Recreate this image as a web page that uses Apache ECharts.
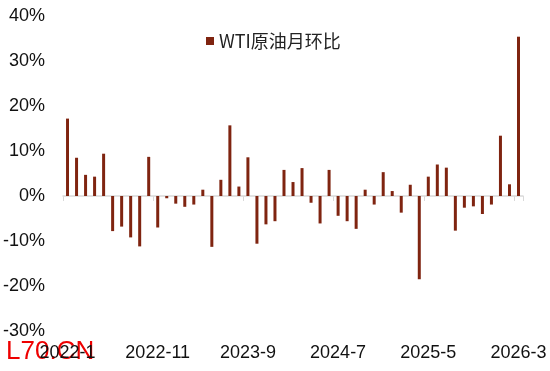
<!DOCTYPE html>
<html>
<head>
<meta charset="utf-8">
<script src="https://cdn.jsdelivr.net/npm/echarts@6/dist/echarts.min.js"></script>
<style>html,body{margin:0;padding:0;background:#fff;}#c{width:550px;height:371px;}</style>
</head>
<body>
<div id="c"></div>
<script>
const months = [];
for (let y = 2022; y <= 2026; y++) {
  for (let m = 1; m <= 12; m++) {
    if (y === 2026 && m > 3) break;
    months.push(y + '-' + m);
  }
}
const seriesName = 'WTI原油月环比';
const wtiMoM = [
  17.2, 8.5, 4.7, 4.3, 9.4, -7.8, -6.8, -9.2, -11.2, 8.7,
  -7.0, -0.5, -1.7, -2.4, -1.9, 1.4, -11.3, 3.6, 15.7, 2.1,
  8.6, -10.6, -6.3, -5.6, 5.8, 3.1, 6.2, -1.5, -6.1, 5.8,
  -4.4, -5.6, -7.3, 1.4, -1.9, 5.3, 1.1, -3.7, 2.5, -18.5,
  4.3, 7.0, 6.3, -7.7, -2.6, -2.3, -4.0, -1.9, 13.4, 2.6,
  35.4
];
const yTicks = { min: -30, max: 40, interval: 10 };

const chart = echarts.init(document.getElementById('c'), null, { renderer: 'canvas' });
chart.setOption({
  animation: false,
  backgroundColor: '#fff',
  grid: { left: 61, right: 27, top: 16, bottom: 40, containLabel: false },
  legend: {
    data: [seriesName],
    left: 201, top: 27,
    icon: 'rect', itemWidth: 8, itemHeight: 8, itemGap: 4,
    textStyle: { fontSize: 18, color: '#222', fontFamily: 'Noto Sans CJK SC' }
  },
  xAxis: [
    {
      type: 'category', data: months, boundaryGap: true,
      axisLine: { onZero: true, lineStyle: { color: '#d9d9d9', width: 1.5 } },
      axisTick: { show: true, interval: 9, length: 5, lineStyle: { color: '#d9d9d9' } },
      axisLabel: { show: false }
    },
    {
      type: 'category', data: months, boundaryGap: true, position: 'bottom',
      axisLine: { show: false, onZero: false }, axisTick: { show: false },
      axisLabel: { interval: 9, fontSize: 18, color: '#111', fontFamily: 'Liberation Sans, Arial', margin: 13 }
    }
  ],
  yAxis: {
    type: 'value', min: yTicks.min, max: yTicks.max, interval: yTicks.interval,
    axisLine: { show: false }, axisTick: { show: false }, splitLine: { show: false },
    axisLabel: { formatter: '{value}%', fontSize: 18, color: '#111', fontFamily: 'Liberation Sans, Arial', margin: 18 }
  },
  series: [{
    name: seriesName, type: 'bar', xAxisIndex: 0, data: wtiMoM,
    barWidth: 3, itemStyle: { color: '#7f2410' }
  }],
  graphic: [{
    type: 'text', left: 6, top: 339,
    style: { text: 'L70.CN', fill: '#ee0000', font: '26px "Liberation Sans", Arial' }
  }]
});
</script>
</body>
</html>
